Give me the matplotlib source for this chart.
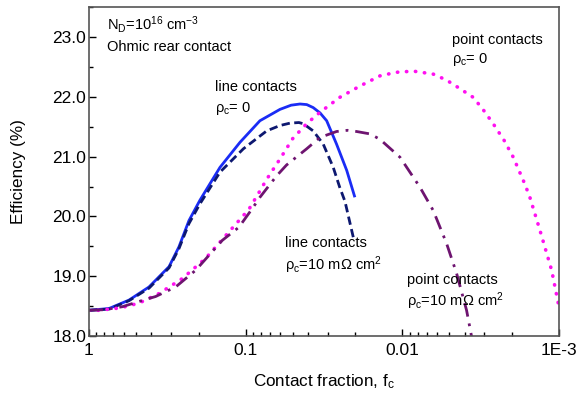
import numpy as np
import matplotlib
matplotlib.use('Agg')
import matplotlib.pyplot as plt
from matplotlib.ticker import FixedLocator, LogLocator, NullFormatter, MultipleLocator

plt.rcParams['font.family'] = ['Liberation Sans', 'DejaVu Sans']
plt.rcParams['mathtext.fontset'] = 'custom'
plt.rcParams['mathtext.rm'] = 'Liberation Sans'
plt.rcParams['mathtext.it'] = 'Liberation Sans'

# contact fraction given as log10(f_c); efficiency in %
# line contacts, rho_c = 0 (solid)
line0_logf = [0, -0.128, -0.255, -0.383, -0.511, -0.574, -0.638, -0.708, -0.745,
              -0.836, -0.964, -1.091, -1.219, -1.29, -1.347, -1.39, -1.431, -1.475,
              -1.517, -1.58, -1.645, -1.697]
line0_eff = [18.43, 18.46, 18.6, 18.82, 19.16, 19.49, 19.93, 20.27, 20.43,
             20.82, 21.24, 21.6, 21.79, 21.86, 21.88, 21.87, 21.82, 21.73,
             21.6, 21.21, 20.77, 20.32]

# line contacts, rho_c = 10 mOhm cm2 (dashed)
line10_logf = [0, -0.128, -0.255, -0.383, -0.511, -0.574, -0.638, -0.708, -0.836,
               -0.985, -1.134, -1.219, -1.283, -1.34, -1.368, -1.431, -1.495, -1.559,
               -1.6, -1.634, -1.687]
line10_eff = [18.43, 18.45, 18.59, 18.8, 19.14, 19.46, 19.88, 20.21, 20.74,
              21.13, 21.43, 21.52, 21.56, 21.57, 21.55, 21.43, 21.21, 20.82,
              20.49, 20.25, 19.65]

# point contacts, rho_c = 0 (dotted)
point0_logf = [0, -0.063, -0.2, -0.319, -0.447, -0.595, -0.745, -0.893, -1.021,
               -1.085, -1.134, -1.219, -1.3, -1.389, -1.474, -1.6, -1.729, -1.857,
               -1.96, -2.07, -2.197, -2.282, -2.36, -2.453, -2.52, -2.58, -2.65,
               -2.708, -2.782, -2.814, -2.878, -2.953, -2.995, -3.0]
point0_eff = [18.43, 18.43, 18.47, 18.55, 18.71, 18.96, 19.3, 19.74, 20.12,
              20.4, 20.62, 20.96, 21.3, 21.55, 21.74, 21.99, 22.18, 22.35,
              22.41, 22.43, 22.38, 22.28, 22.15, 21.99, 21.77, 21.55, 21.27,
              20.99, 20.54, 20.32, 19.77, 19.1, 18.55, 18.48]

# point contacts, rho_c = 10 mOhm cm2 (dash-dot)
point10_logf = [0, -0.1, -0.213, -0.347, -0.425, -0.553, -0.681, -0.851, -0.957,
                -1.042, -1.091, -1.198, -1.261, -1.389, -1.474, -1.58, -1.65, -1.708,
                -1.793, -1.857, -1.985, -2.112, -2.197, -2.282, -2.346, -2.41, -2.442,
                -2.46]
point10_eff = [18.43, 18.44, 18.49, 18.6, 18.66, 18.82, 19.1, 19.6, 19.82,
               20.13, 20.32, 20.68, 20.86, 21.13, 21.32, 21.42, 21.44, 21.42,
               21.38, 21.29, 20.99, 20.49, 20.1, 19.55, 19.05, 18.43, 17.99,
               17.8]

fig = plt.figure(figsize=(5.76, 3.96), dpi=100)
ax = fig.add_axes([0.1545, 0.1515, 0.816, 0.8305])

ax.plot(10 ** np.array(line0_logf), line0_eff, color='#1a2cf5', lw=2.0, solid_capstyle='butt')
ax.plot(10 ** np.array(line10_logf), line10_eff, color='#0d1870', lw=2.0, ls=(0, (3, 1.6)))
ax.plot(10 ** np.array(point0_logf), point0_eff, color='#ff10f0', lw=2.6, ls=(0, (0.1, 2.4)),
        dash_capstyle='round')
ax.plot(10 ** np.array(point10_logf), point10_eff, color='#6e1470', lw=2.0,
        ls=(0, (5, 2.5, 1, 2.5)))

ax.set_xscale('log')
ax.set_xlim(1, 1e-3)
ax.set_ylim(18.0, 23.5)
ax.xaxis.set_major_locator(FixedLocator([1, 0.1, 0.01, 0.001]))
ax.set_xticklabels(['1', '0.1', '0.01', '1E-3'])
ax.xaxis.set_minor_locator(LogLocator(base=10, subs=np.arange(2, 10)))
ax.xaxis.set_minor_formatter(NullFormatter())
ax.yaxis.set_major_locator(FixedLocator([18, 19, 20, 21, 22, 23]))
ax.set_yticklabels(['18.0', '19.0', '20.0', '21.0', '22.0', '23.0'])
ax.yaxis.set_minor_locator(MultipleLocator(0.5))

ax.tick_params(which='both', direction='in', top=False, right=False, labelsize=12.5)
ax.tick_params(axis='y', pad=2)
ax.tick_params(axis='x', pad=5)
ax.tick_params(which='major', length=5, width=1)
ax.tick_params(which='minor', length=3, width=1)
for s in ax.spines.values():
    s.set_color('#555555')
    s.set_linewidth(1.2)

ax.set_xlabel('Contact fraction, f$_c$', fontsize=12.3)
ax.xaxis.set_label_coords(0.5, -0.11)
ax.set_ylabel('Efficiency (%)', fontsize=12.3)
ax.yaxis.set_label_coords(-0.134, 0.5)

fs = 10.5
ax.text(0.038, 0.948, 'N$_D$=10$^{16}$ cm$^{-3}$', transform=ax.transAxes, fontsize=fs, va='center')
ax.text(0.038, 0.878, 'Ohmic rear contact', transform=ax.transAxes, fontsize=fs, va='center')
ax.text(0.268, 0.757, 'line contacts', transform=ax.transAxes, fontsize=fs, va='center')
ax.text(0.268, 0.693, 'ρ$_c$= 0', transform=ax.transAxes, fontsize=fs, va='center')
ax.text(0.772, 0.9, 'point contacts', transform=ax.transAxes, fontsize=fs, va='center')
ax.text(0.772, 0.84, 'ρ$_c$= 0', transform=ax.transAxes, fontsize=fs, va='center')
ax.text(0.417, 0.283, 'line contacts', transform=ax.transAxes, fontsize=fs, va='center')
ax.text(0.417, 0.216, 'ρ$_c$=10 mΩ cm$^2$', transform=ax.transAxes, fontsize=fs, va='center')
ax.text(0.677, 0.17, 'point contacts', transform=ax.transAxes, fontsize=fs, va='center')
ax.text(0.677, 0.107, 'ρ$_c$=10 mΩ cm$^2$', transform=ax.transAxes, fontsize=fs, va='center')

fig.savefig('out.png', dpi=100)
